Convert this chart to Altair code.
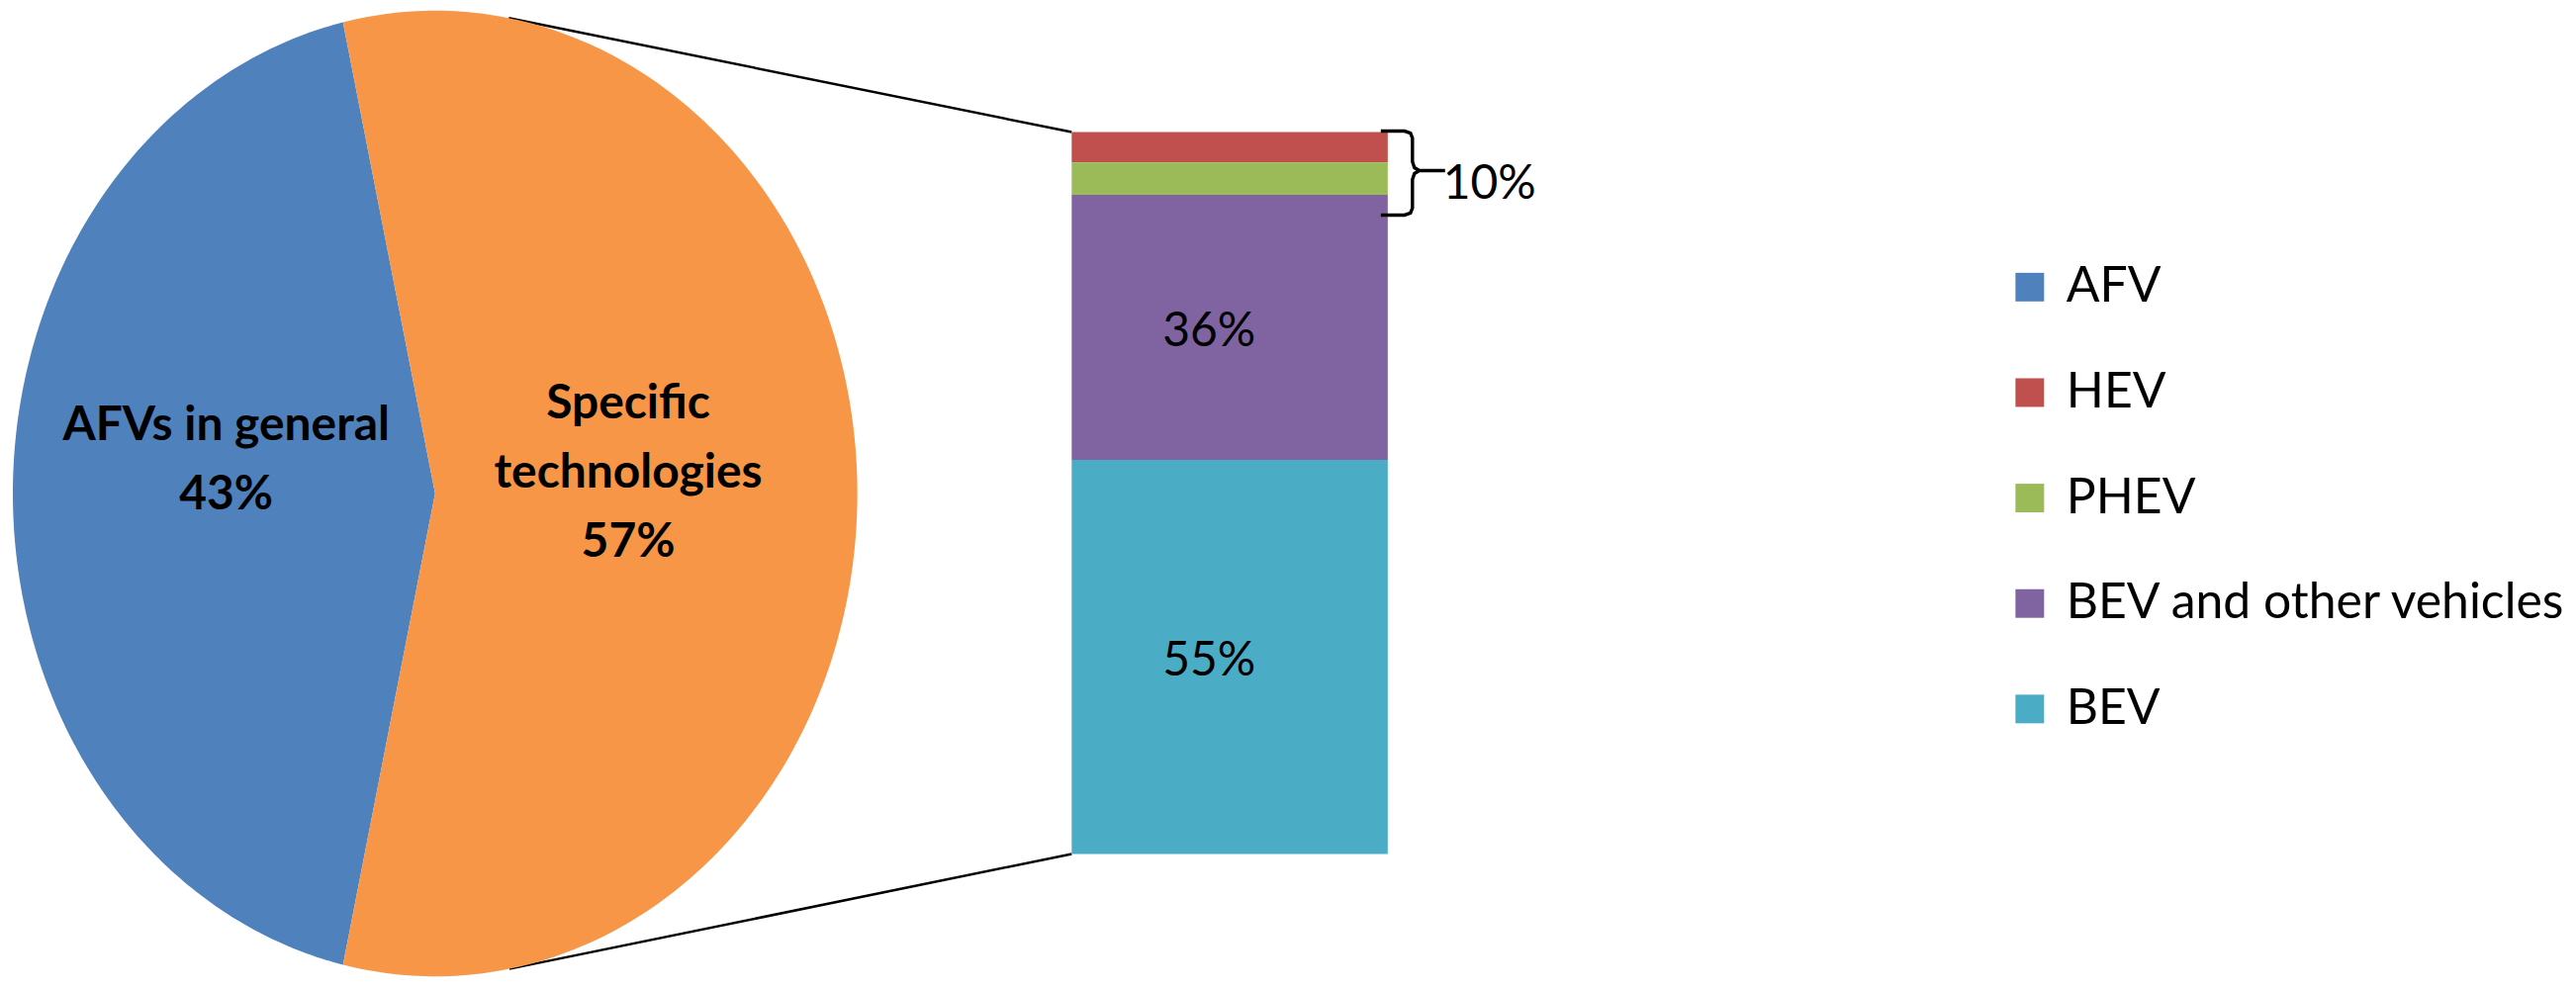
import math
import altair as alt
import pandas as pd

# ---------------- data ----------------
pie_names = ["AFVs in general", "Specific\ntechnologies"]
pie_keys = ["AFV", "Specific technologies"]
pie_values = [43, 57]

bar_keys = ["HEV", "PHEV", "BEV and other vehicles", "BEV"]
bar_values = [4.2, 4.5, 36.7, 54.6]
bar_labels = ["", "", "36%", "55%"]
bracket_label = "10%"

legend_keys = ["AFV", "HEV", "PHEV", "BEV and other vehicles", "BEV"]
color_domain = ["AFV", "Specific technologies", "HEV", "PHEV", "BEV and other vehicles", "BEV"]
color_range = ["#4F81BD", "#F79646", "#C0504D", "#9BBB59", "#8064A2", "#4BACC6"]

# ---------------- layout (chart pixel space) ----------------
W, H = 2588, 980
CX, CY, RX, RY = 432.5, 491.0, 427.5, 489.0      # pie ellipse
BX0, BX1, BY0, BY1 = 1077, 1397, 125, 856        # bar box
N = 240
FONT = "Lato"
FS = 48
LH = 70
LR = 0.476
OFF = 32
KL = 22

xs = alt.Scale(domain=[0, W], nice=False, zero=False)
ys = alt.Scale(domain=[0, H], nice=False, zero=False, reverse=True)


def X(f):
    return alt.X(f"{f}:Q", scale=xs, axis=None)


def Y(f):
    return alt.Y(f"{f}:Q", scale=ys, axis=None)


color_scale = alt.Scale(domain=color_domain, range=color_range)
legend = alt.Legend(
    values=legend_keys, title=None, orient="none", legendX=2022, legendY=257,
    direction="vertical", symbolType="square", symbolSize=841, symbolStrokeWidth=0,
    labelFont=FONT, labelFontSize=50, labelColor="#000000", labelOffset=12,
    rowPadding=56.8, padding=0, labelLimit=0,
)
color = alt.Color("key:N", scale=color_scale, legend=legend)

# ---------------- pie (elliptical) ----------------
total_pie = sum(pie_values)
rot = 90 - 360 * (pie_values[0] + pie_values[1] / 2) / total_pie

pie_df = pd.DataFrame({
    "key": pie_keys, "name": pie_names, "value": pie_values,
    "idx": list(range(len(pie_keys))),
})

pie_base = alt.Chart(pie_df).transform_joinaggregate(
    total="sum(value)"
).transform_window(
    cum="sum(value)", sort=[alt.SortField("idx")]
).transform_calculate(
    a0=f"{rot} + 360 * (datum.cum - datum.value) / datum.total",
    a1=f"{rot} + 360 * datum.cum / datum.total",
)

pie = pie_base.transform_calculate(
    k=f"sequence(-1, {N + 1})"
).transform_flatten(["k"]).transform_calculate(
    ang=f"(datum.a0 + (datum.a1 - datum.a0) * datum.k / {N}) * PI / 180",
    px=f"datum.k < 0 ? {CX} : {CX} + {RX} * sin(datum.ang)",
    py=f"datum.k < 0 ? {CY} : {CY} - {RY} * cos(datum.ang)",
).mark_line(filled=True, interpolate="linear").encode(
    x=X("px"), y=Y("py"), order="k:Q", color=color
)

pie_text = pie_base.transform_calculate(
    mid="(datum.a0 + datum.a1) / 2 * PI / 180",
    t="datum.name + '\\n' + datum.value + '%'",
    nl="length(split(datum.name, '\\n')) + 1",
    lx=f"{CX} + {LR * RX} * sin(datum.mid)",
    ly=f"{CY} - {OFF} - (datum.nl - 1) * {KL} - {0.79 * FS}",
).mark_text(
    font=FONT, fontSize=FS, fontWeight="bold", lineHeight=LH, baseline="top",
    align="center", lineBreak="\n", dx=-8, color="black",
).encode(x=X("lx"), y=Y("ly"), text="t:N")

# ---------------- connector lines (tangents from bar corners) ----------------
def tangent_point(px, py, upper):
    u, v = (px - CX) / RX, (py - CY) / RY
    r = math.hypot(u, v)
    a = math.atan2(v, u)
    d = math.acos(1 / r)
    phi = a - d if upper else a + d
    return CX + RX * math.cos(phi), CY + RY * math.sin(phi)


t_top = tangent_point(BX0, BY0, True)
t_bot = tangent_point(BX0, BY1, False)
conn_df = pd.DataFrame({
    "x": [t_top[0], t_bot[0]], "y": [t_top[1], t_bot[1]],
    "x2": [BX0, BX0], "y2": [BY0, BY1],
})
conn = alt.Chart(conn_df).mark_rule(color="#000000", strokeWidth=2.5).encode(
    x=X("x"), y=Y("y"), x2=alt.X2("x2"), y2=alt.Y2("y2")
)

# ---------------- bar of pie ----------------
bar_df = pd.DataFrame({
    "key": bar_keys, "value": bar_values, "label": bar_labels,
    "idx": list(range(len(bar_keys))),
})
bar_base = alt.Chart(bar_df).transform_joinaggregate(
    total="sum(value)"
).transform_window(
    cum="sum(value)", sort=[alt.SortField("idx")]
).transform_calculate(
    y0=f"{BY0} + {BY1 - BY0} * (datum.cum - datum.value) / datum.total",
    y1=f"{BY0} + {BY1 - BY0} * datum.cum / datum.total",
    ym="(datum.y0 + datum.y1) / 2",
    x0=f"{BX0}", x1=f"{BX1}", xm=f"{(BX0 + BX1) / 2}",
)
bars = bar_base.mark_rect().encode(
    x=X("x0"), x2=alt.X2("x1"), y=Y("y0"), y2=alt.Y2("y1"), color=color
)
bar_text = bar_base.transform_filter("datum.label != ''").mark_text(
    font=FONT, fontSize=FS, dx=-21, dy=5, color="black", baseline="middle", align="center"
).encode(x=X("xm"), y=Y("ym"), text="label:N")

# ---------------- brace annotation ----------------
brace_dx = [-7, 17, 23, 25, 25, 27, 32, 58, 32, 27, 25, 25, 23, 17, -7]
brace_dy = [-1, -1, 1, 6, 30, 36, 39, 39, 39, 42, 48, 77, 82, 84, 84]
brace_df = pd.DataFrame({
    "x": [BX1 + d for d in brace_dx],
    "y": [BY0 + d for d in brace_dy],
    "o": list(range(len(brace_dx))),
})
brace = alt.Chart(brace_df).mark_line(color="#000000", strokeWidth=3.4).encode(
    x=X("x"), y=Y("y"), order="o:Q"
)
brace_text_df = pd.DataFrame({"x": [BX1 + 56], "y": [BY0 + 54], "t": [bracket_label]})
brace_text = alt.Chart(brace_text_df).mark_text(
    font=FONT, fontSize=FS, align="left", baseline="middle", color="black"
).encode(x=X("x"), y=Y("y"), text="t:N")

chart = alt.layer(
    conn, pie, pie_text, bars, bar_text, brace, brace_text
).properties(
    width=W, height=H, padding=0, background="white"
).configure_view(strokeWidth=0)

chart.save("out.html", embed_options={"renderer": "svg", "actions": False})
